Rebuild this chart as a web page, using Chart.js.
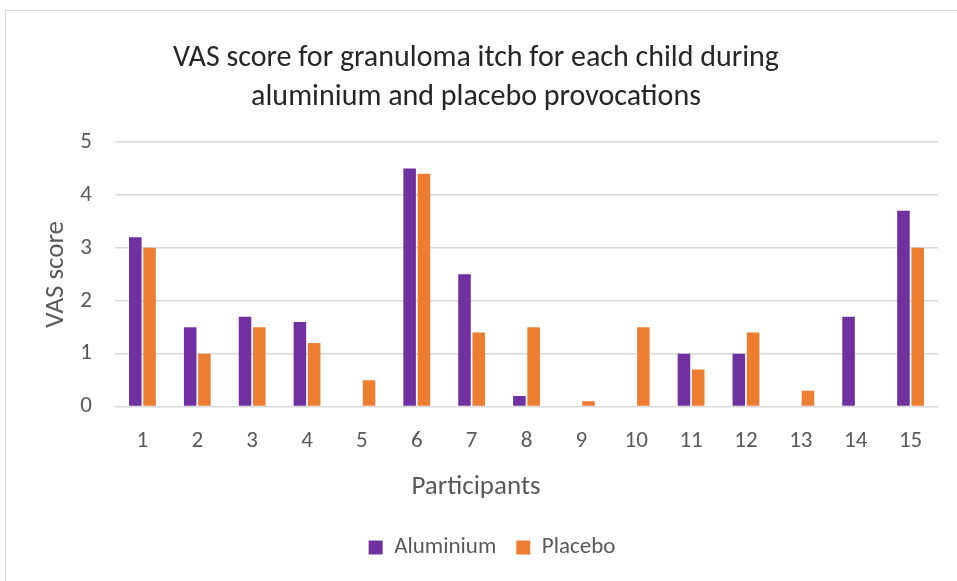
<!DOCTYPE html>
<html>
<head>
<meta charset="utf-8">
<script src="https://cdn.jsdelivr.net/npm/chart.js@4.4.1/dist/chart.umd.min.js"></script>
<style>
  body { margin: 0; background: #fff; }
  #frame { position: absolute; left: 5px; top: 10px; width: 980px; height: 600px; border: 1px solid #d9d9d9; }
  #wrap { position: absolute; left: 0; top: 0; width: 957px; height: 581px; }
</style>
</head>
<body>
<div id="frame"></div>
<div id="wrap"><canvas id="vasChart" width="957" height="581"></canvas></div>
<script>
var participants = ['1', '2', '3', '4', '5', '6', '7', '8', '9', '10', '11', '12', '13', '14', '15'];
var aluminium = [3.2, 1.5, 1.7, 1.6, 0, 4.5, 2.5, 0.2, 0, 0, 1.0, 1.0, 0, 1.7, 3.7];
var placebo = [3.0, 1.0, 1.5, 1.2, 0.5, 4.4, 1.4, 1.5, 0.1, 1.5, 0.7, 1.4, 0.3, 0, 3.0];
var yTicks = [0, 1, 2, 3, 4, 5];

var font = 'Carlito, Calibri, Lato, sans-serif';
var grey = '#595959';

// legend sits a little right of centre in the original
var legendNudge = {
    id: 'legendNudge',
    afterLayout: function (chart) {
        chart.legend.left += 16;
        chart.legend.right += 16;
    }
};

document.addEventListener('DOMContentLoaded', function () {
    var ctx = document.getElementById('vasChart').getContext('2d');
    new Chart(ctx, {
        type: 'bar',
        data: {
            labels: participants,
            datasets: [{
                label: 'Aluminium',
                data: aluminium,
                backgroundColor: '#7030a0',
                barPercentage: 0.88,
                categoryPercentage: 0.52
            }, {
                label: 'Placebo',
                data: placebo,
                backgroundColor: '#ed7d31',
                barPercentage: 0.88,
                categoryPercentage: 0.52
            }]
        },
        plugins: [legendNudge],
        options: {
            responsive: false,
            animation: false,
            layout: { padding: { left: 14, right: 19, top: 39, bottom: 12 } },
            plugins: {
                title: {
                    display: true,
                    text: ['VAS score for granuloma itch for each child during', 'aluminium and placebo provocations'],
                    color: '#262626',
                    font: { family: font, size: 30, weight: 'normal', lineHeight: 1.3 },
                    padding: { top: 0, bottom: 25 }
                },
                // x axis title, centred on the whole chart like the original
                subtitle: {
                    display: true,
                    position: 'bottom',
                    weight: 500,
                    text: 'Participants',
                    color: grey,
                    font: { family: font, size: 27, weight: 'normal', lineHeight: 1.2 },
                    padding: { top: 0, bottom: 13 }
                },
                legend: {
                    position: 'bottom',
                    labels: {
                        color: grey,
                        font: { family: font, size: 23 },
                        boxWidth: 14,
                        boxHeight: 14,
                        padding: 20
                    }
                },
                tooltip: { enabled: false }
            },
            scales: {
                x: {
                    grid: { display: false, drawTicks: false },
                    border: { display: false },
                    ticks: { color: grey, font: { family: font, size: 23 }, padding: 21 },
                    afterFit: function (scale) { scale.height = 64; }
                },
                y: {
                    min: 0,
                    max: 5,
                    afterBuildTicks: function (scale) {
                        scale.ticks = yTicks.map(function (v) { return { value: v }; });
                    },
                    grid: { color: '#d9d9d9', lineWidth: 1.5, drawTicks: false },
                    border: { display: false },
                    ticks: { color: grey, font: { family: font, size: 23 }, padding: 23 },
                    title: {
                        display: true,
                        text: 'VAS score',
                        color: grey,
                        font: { family: font, size: 27, lineHeight: 1.2 },
                        padding: { top: 26, bottom: 0 }
                    },
                    afterFit: function (scale) { scale.width = 101; }
                }
            }
        }
    });
});
</script>
</body>
</html>
